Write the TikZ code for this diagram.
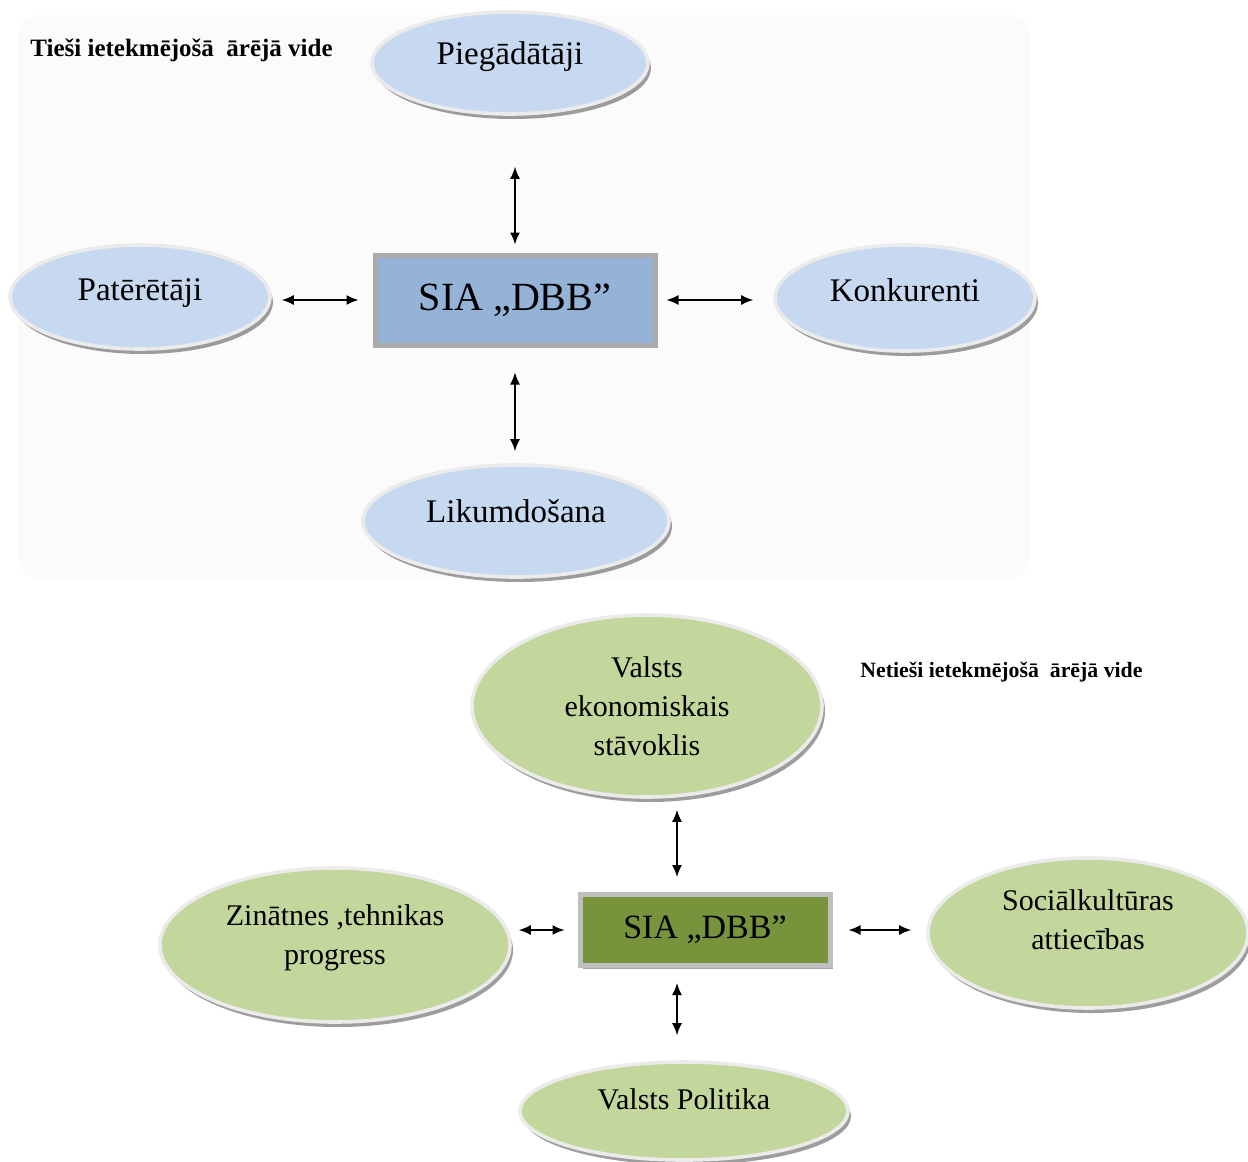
\documentclass[tikz,border=0pt]{standalone}
\usepackage{fontspec}
\setmainfont{Liberation Serif}
\usetikzlibrary{shapes.geometric,arrows.meta,shadows}

\definecolor{ovalblue}{HTML}{C6D9F1}
\definecolor{firmblue}{HTML}{95B3D7}
\definecolor{ovalgreen}{HTML}{C3D69B}
\definecolor{firmgreen}{HTML}{77933C}

\begin{document}
\begin{tikzpicture}[x=0.5pt,y=-0.5pt,
  oval/.style={ellipse, inner sep=0pt, draw=black!8, line width=1.8pt,
    drop shadow={shadow xshift=1.5pt, shadow yshift=-2.5pt, fill=black!55, opacity=0.7}},
  blueoval/.style={oval, fill=ovalblue, font=\fontsize{16.5}{20}\selectfont},
  greenoval/.style={oval, fill=ovalgreen, align=center, font=\fontsize{15}{19.5}\selectfont},
  firm/.style={rectangle, inner sep=0pt, draw=black!33, line width=2.5pt,
    drop shadow={shadow xshift=1.5pt, shadow yshift=-1.5pt, fill=black!60, opacity=0.6}},
  both/.style={{Latex[length=6pt,width=5pt]}-{Latex[length=6pt,width=5pt]}, line width=0.8pt},
  heading/.style={anchor=west, inner sep=0pt}]
\useasboundingbox (0,0) rectangle (1248,1162);

% directly influencing environment
\fill[black!1.5, rounded corners=10pt] (18,15) rectangle (1030,578);
\node[heading, font=\bfseries\fontsize{12.5}{15}\selectfont] (tiesi) at (30,50) {Tieši ietekmējošā~ ārējā vide};

\node[blueoval, minimum width=138pt, minimum height=51pt, text depth=10pt] (pieg) at (510,63) {Piegādātāji};
\node[blueoval, minimum width=130pt, minimum height=52pt, text depth=7pt] (pat) at (140,297) {Patērētāji};
\node[blueoval, minimum width=130pt, minimum height=53pt, text depth=8pt] (konk) at (905,298) {Konkurenti};
\node[blueoval, minimum width=153pt, minimum height=56pt, text depth=10pt] (likum) at (516,521) {Likumdošana};
\node[firm, fill=firmblue, minimum width=140pt, minimum height=45pt, font=\fontsize{20}{24}\selectfont] (sia1) at (515,300) {SIA „DBB”};

\draw[both, shorten <=25.5pt, shorten >=4pt] (pieg.south -| sia1.north) -- (sia1.north);
\draw[both, shorten <=12.5pt, shorten >=6pt] (sia1.south) -- (sia1.south |- likum.north);
\draw[both, shorten <=5pt, shorten >=7pt] (pat.east |- sia1.west) -- (sia1.west);
\draw[both, shorten <=4.5pt, shorten >=10pt] (sia1.east) -- (sia1.east -| konk.west);

% indirectly influencing environment
\node[heading, font=\bfseries\fontsize{10.9}{13}\selectfont] (netiesi) at (860,672) {Netieši ietekmējošā~ ārējā vide};

\node[greenoval, minimum width=175pt, minimum height=91pt] (valsts) at (647,706) {Valsts\\ekonomiskais\\stāvoklis};
\node[greenoval, minimum width=175pt, minimum height=77pt, text depth=10pt] (zin) at (335,945) {Zinātnes ,tehnikas\\progress};
\node[greenoval, minimum width=160pt, minimum height=75pt, text depth=13pt] (soc) at (1088,933) {Sociālkultūras\\attiecības};
\node[greenoval, minimum width=164pt, minimum height=49pt, text depth=12pt] (pol) at (684,1111) {Valsts Politika};
\node[firm, fill=firmgreen, draw=black!25, minimum width=125pt, minimum height=35.5pt, font=\fontsize{17}{20}\selectfont] (sia2) at (705,930) {SIA „DBB”};

\coordinate (axis) at ([xshift=-14pt]sia2.center);
\draw[both, shorten <=5.5pt, shorten >=7.5pt] (axis |- valsts.south) -- (axis |- sia2.north);
\draw[both, shorten <=7.5pt, shorten >=12.5pt] (axis |- sia2.south) -- (axis |- pol.north);
\draw[both, shorten <=6.5pt, shorten >=3.5pt] (sia2.west) -- (sia2.west -| zin.east);
\draw[both, shorten <=8pt, shorten >=7.5pt] (sia2.east) -- (sia2.east -| soc.west);
\end{tikzpicture}
\end{document}
